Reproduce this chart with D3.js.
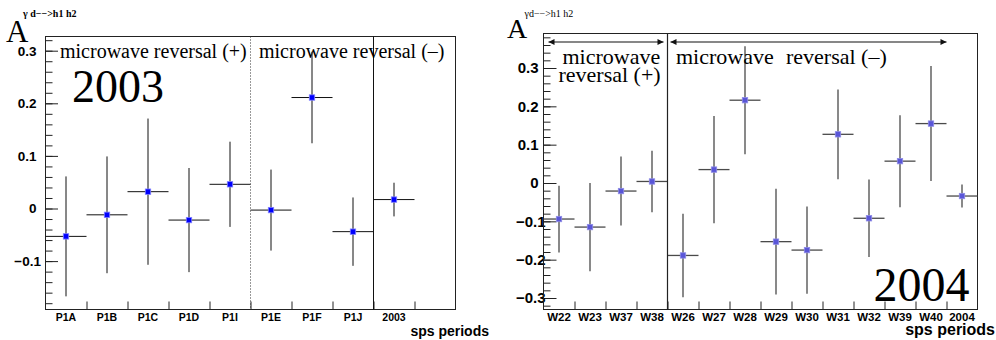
<!DOCTYPE html>
<html>
<head>
<meta charset="utf-8">
<script src="https://cdn.jsdelivr.net/npm/d3@7"></script>
<style>
  html, body { margin: 0; padding: 0; background: #fff; }
  svg { display: block; }
  .serif { font-family: "Liberation Serif", "Times New Roman", serif; }
  .sans { font-family: "Liberation Sans", Arial, sans-serif; font-weight: bold; }
</style>
</head>
<body>
<svg id="chart" width="996" height="340"></svg>
<script>
// ---------------- DATA ----------------
const leftLabels = ["P1A", "P1B", "P1C", "P1D", "P1I", "P1E", "P1F", "P1J", "2003"];
const leftValues = [-0.053, -0.012, 0.032, -0.022, 0.046, -0.003, 0.211, -0.044, 0.017];
const leftErrors = [0.114, 0.111, 0.139, 0.099, 0.081, 0.077, 0.087, 0.065, 0.032];
const leftYTicks = [-0.1, 0, 0.1, 0.2, 0.3];

const rightLabels = ["W22", "W23", "W37", "W38", "W26", "W27", "W28", "W29", "W30", "W31", "W32", "W39", "W40", "2004"];
const rightValues = [-0.094, -0.115, -0.021, 0.004, -0.189, 0.035, 0.216, -0.153, -0.175, 0.127, -0.092, 0.057, 0.155, -0.034];
const rightErrors = [0.087, 0.115, 0.090, 0.080, 0.109, 0.140, 0.141, 0.138, 0.114, 0.117, 0.101, 0.120, 0.150, 0.030];
const rightYTicks = [-0.3, -0.2, -0.1, 0, 0.1, 0.2, 0.3];

const svg = d3.select("#chart");
const fmt = d3.format("");

function panel(cfg) {
  const g = svg.append("g");
  const x = d3.scaleLinear().domain([0, cfg.nBins]).range([cfg.left, cfg.right]);
  const band = d3.scaleBand().domain(cfg.labels).range([x(0), x(cfg.labels.length)]).padding(0);
  const y = d3.scaleLinear().domain(cfg.yDomain).range([cfg.bottom, cfg.top]);

  // minor y ticks
  const minor = d3.range(Math.ceil(cfg.yDomain[0] / 0.02), Math.floor(cfg.yDomain[1] / 0.02) + 1).map(k => +(k * 0.02).toFixed(2));
  g.append("g").attr("transform", `translate(${cfg.left},0)`)
    .call(d3.axisLeft(y).tickValues(minor).tickSize(-7).tickFormat(""))
    .call(a => a.select(".domain").remove())
    .call(a => a.selectAll("line").attr("stroke", "#222"));
  // major y ticks
  const ya = g.append("g").attr("transform", `translate(${cfg.left},0)`)
    .call(d3.axisLeft(y).tickValues(cfg.yTicks).tickSize(-cfg.majorLen).tickPadding(cfg.yPad).tickFormat(fmt))
    .call(a => a.select(".domain").remove())
    .call(a => a.selectAll("line").attr("stroke", "#222"));
  ya.selectAll("text").attr("class", "sans").attr("font-size", cfg.yFont).attr("fill", "#000")
    .attr("dx", d => d < 0 ? cfg.negShift : 0);

  // x ticks at bin boundaries
  g.append("g").attr("transform", `translate(0,${cfg.bottom})`)
    .call(d3.axisBottom(x).tickValues(d3.range(1, cfg.nBins)).tickSize(-8).tickFormat(""))
    .call(a => a.select(".domain").remove())
    .call(a => a.selectAll("line").attr("stroke", "#222"));
  // x labels
  g.append("g").selectAll("text").data(cfg.labels).join("text")
    .attr("class", "sans").attr("font-size", cfg.xFont)
    .attr("text-anchor", "middle")
    .attr("x", d => band(d) + band.bandwidth() / 2)
    .attr("y", cfg.bottom + cfg.xLabelDy)
    .text(d => d);

  // frame
  g.append("rect").attr("x", cfg.left).attr("y", cfg.top)
    .attr("width", cfg.right - cfg.left).attr("height", cfg.bottom - cfg.top)
    .attr("fill", "none").attr("stroke", "#222").attr("stroke-width", 1);

  // points
  const pts = cfg.labels.map((l, i) => ({ l, v: cfg.values[i], e: cfg.errors[i] }));
  const pg = g.append("g");
  pg.selectAll("line.h").data(pts).join("line").attr("class", "h")
    .attr("x1", d => band(d.l)).attr("x2", d => band(d.l) + band.bandwidth())
    .attr("y1", d => y(d.v)).attr("y2", d => y(d.v))
    .attr("stroke", cfg.barColor).attr("stroke-width", cfg.barWidth);
  pg.selectAll("line.v").data(pts).join("line").attr("class", "v")
    .attr("x1", d => band(d.l) + band.bandwidth() / 2).attr("x2", d => band(d.l) + band.bandwidth() / 2)
    .attr("y1", d => y(d.v + d.e)).attr("y2", d => y(d.v - d.e))
    .attr("stroke", cfg.barColor).attr("stroke-width", cfg.barWidth);
  pg.selectAll("rect").data(pts).join("rect")
    .attr("x", d => band(d.l) + band.bandwidth() / 2 - 2.7)
    .attr("y", d => y(d.v) - 2.7)
    .attr("width", 5.4).attr("height", 5.4)
    .attr("fill", cfg.markerColor).attr("stroke", cfg.markerStroke).attr("stroke-width", 0.8);

  return { g, x, y, band };
}

// ---------------- LEFT PANEL (2003) ----------------
const L = panel({
  left: 45.5, right: 455.5, top: 36.5, bottom: 309.5, nBins: 10,
  labels: leftLabels, values: leftValues, errors: leftErrors,
  yDomain: [-0.192, 0.327], yTicks: leftYTicks,
  majorLen: 12.5, yPad: 9, yFont: 13.5, negShift: 4.5, xFont: 10.5, xLabelDy: 11,
  barColor: "#111", barWidth: 1, markerColor: "#0000ff", markerStroke: "#7f7fff"
});
// dotted separator (between + and - reversal), solid separator before 2003
L.g.append("line").attr("x1", L.x(5)).attr("x2", L.x(5)).attr("y1", L.y.range()[1]).attr("y2", L.y.range()[0])
  .attr("stroke", "#333").attr("stroke-dasharray", "1,2").attr("stroke-width", 1);
L.g.append("line").attr("x1", L.x(8)).attr("x2", L.x(8)).attr("y1", L.y.range()[1]).attr("y2", L.y.range()[0])
  .attr("stroke", "#111").attr("stroke-width", 1);

svg.append("text").attr("class", "serif").attr("x", 60).attr("y", 58).attr("font-size", 20).text("microwave reversal (+)");
svg.append("text").attr("class", "serif").attr("x", 259).attr("y", 58).attr("font-size", 20).text("microwave reversal (–)");
svg.append("text").attr("class", "serif").attr("x", 72).attr("y", 101.5).attr("font-size", 46).text("2003");
svg.append("text").attr("class", "serif").attr("x", 6).attr("y", 41.5).attr("font-size", 31).text("A");
svg.append("text").attr("class", "serif").attr("x", 23).attr("y", 16.5).attr("font-size", 10).attr("font-weight", "bold").text("γ d−−>h1 h2");
svg.append("text").attr("class", "sans").attr("x", 489).attr("y", 335.5).attr("font-size", 14).attr("text-anchor", "end").text("sps periods");

// ---------------- RIGHT PANEL (2004) ----------------
const R = panel({
  left: 543.5, right: 977.5, top: 33.5, bottom: 309.5, nBins: 14,
  labels: rightLabels, values: rightValues, errors: rightErrors,
  yDomain: [-0.33, 0.39], yTicks: rightYTicks,
  majorLen: 13, yPad: 5, yFont: 15, negShift: 7, xFont: 11.5, xLabelDy: 11,
  barColor: "#4a4a4a", barWidth: 1.3, markerColor: "#5a56d8", markerStroke: "#8f8ce6"
});
R.g.append("line").attr("x1", R.x(4)).attr("x2", R.x(4)).attr("y1", R.y.range()[1]).attr("y2", R.y.range()[0])
  .attr("stroke", "#222").attr("stroke-width", 1.2);

// arrows
const defs = svg.append("defs");
defs.append("marker").attr("id", "ah").attr("viewBox", "0 0 10 10").attr("refX", 10).attr("refY", 5)
  .attr("markerWidth", 8).attr("markerHeight", 6).attr("markerUnits", "userSpaceOnUse").attr("orient", "auto-start-reverse")
  .append("path").attr("d", "M0,0 L10,5 L0,10 Z").attr("fill", "#111");
const arrowY = 42;
svg.append("line").attr("x1", R.x(0) + 5).attr("x2", R.x(4) - 4).attr("y1", arrowY).attr("y2", arrowY)
  .attr("stroke", "#111").attr("stroke-width", 1.2)
  .attr("marker-start", "url(#ah)").attr("marker-end", "url(#ah)");
svg.append("line").attr("x1", R.x(4) + 3).attr("x2", R.x(13)).attr("y1", arrowY).attr("y2", arrowY)
  .attr("stroke", "#111").attr("stroke-width", 1.2)
  .attr("marker-start", "url(#ah)").attr("marker-end", "url(#ah)");

svg.append("text").attr("class", "serif").attr("x", 562.5).attr("y", 63.5).attr("font-size", 22).text("microwave");
svg.append("text").attr("class", "serif").attr("x", 558.5).attr("y", 82).attr("font-size", 22).text("reversal (+)");
svg.append("text").attr("class", "serif").attr("x", 676).attr("y", 63.5).attr("font-size", 22).text("microwave");
svg.append("text").attr("class", "serif").attr("x", 786).attr("y", 63.5).attr("font-size", 22).text("reversal (–)");
svg.append("text").attr("class", "serif").attr("x", 969.5).attr("y", 300.5).attr("font-size", 48).attr("text-anchor", "end").text("2004");
svg.append("text").attr("class", "serif").attr("x", 507).attr("y", 37.5).attr("font-size", 28).text("A");
svg.append("text").attr("class", "serif").attr("x", 524.5).attr("y", 16.5).attr("font-size", 10).text("γd−−>h1 h2");
svg.append("text").attr("class", "sans").attr("x", 995).attr("y", 334.5).attr("font-size", 16).attr("text-anchor", "end").text("sps periods");
</script>
</body>
</html>
